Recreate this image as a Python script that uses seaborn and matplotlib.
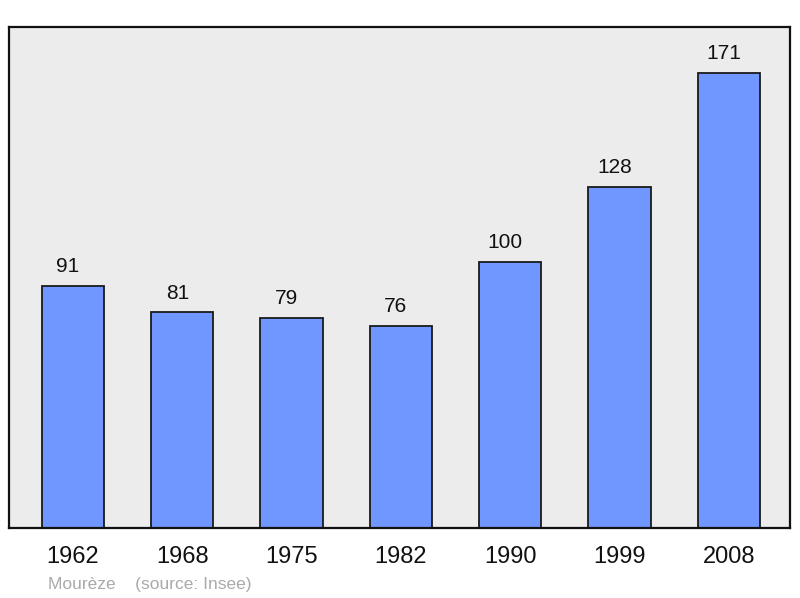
import matplotlib
matplotlib.use("Agg")
import pandas as pd
import seaborn as sns
import matplotlib.pyplot as plt

# Population data (Mourèze, source: Insee)
years = ["1962", "1968", "1975", "1982", "1990", "1999", "2008"]
population = [91, 81, 79, 76, 100, 128, 171]

df = pd.DataFrame({"year": years, "pop": population})

sns.set_style("white")
plt.rcParams['font.family'] = ['Liberation Sans', 'DejaVu Sans']

fig = plt.figure(figsize=(8, 5.98), dpi=100)
ax = fig.add_axes([0.01125, 0.117, 0.97625, 0.838])
ax.set_facecolor("#ececec")

sns.barplot(data=df, x="year", y="pop", color="#7097ff", width=0.57,
            edgecolor="#1a1a1a", linewidth=1.3, saturation=1, ax=ax)

# value labels above bars
for i, v in enumerate(population):
    ax.annotate(str(v), (i, v), xytext=(-3.6, 14), textcoords="offset points",
                ha="center", va="center", fontsize=15, color="#111111")

ax.set_ylim(0, 188.3)
ax.set_xlim(-0.585, 6.56)
ax.set_yticks([])
ax.set_xlabel("")
ax.set_ylabel("")
ax.tick_params(axis="x", length=0, labelsize=17, pad=13, colors="#111111")
for s in ax.spines.values():
    s.set_color("#111111")
    s.set_linewidth(1.6)

fig.text(0.06, 0.015, "Mourèze    (source: Insee)", fontsize=12.5, color="#aaaaaa")

fig.savefig("out.png", dpi=100)
